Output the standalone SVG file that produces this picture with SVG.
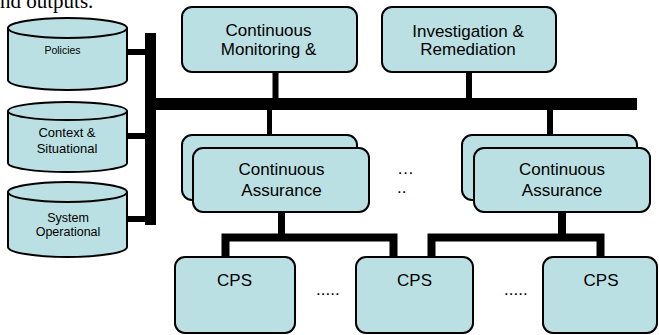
<svg xmlns="http://www.w3.org/2000/svg" width="659" height="335" viewBox="0 0 659 335">
<style>
.box{fill:#BBE0E3;stroke:#000;stroke-width:2}
.t{font-family:"Liberation Sans",Arial,sans-serif;font-size:17px;fill:#000;text-anchor:middle}
.ct{font-family:"Liberation Sans",Arial,sans-serif;fill:#000;text-anchor:middle}
.bus{fill:none;stroke:#000;stroke-linecap:butt;stroke-linejoin:miter}
.dots{font-family:"Liberation Sans",Arial,sans-serif;font-size:17px;fill:#000}
</style>
<rect width="659" height="335" fill="#fff"/>
<text x="0" y="8" font-family="'Liberation Serif','Times New Roman',serif" font-size="21" fill="#000">nd outputs.</text>

<g id="connectors">
<path class="bus" stroke-width="11" d="M150.5 33 V225"/>
<path class="bus" stroke-width="6" d="M127 52 H146"/>
<path class="bus" stroke-width="6" d="M127 136 H146"/>
<path class="bus" stroke-width="6" d="M127 219 H146"/>
<path class="bus" stroke-width="12" d="M150 104 H637"/>
<path class="bus" stroke-width="6" d="M275.5 72 V99"/>
<path class="bus" stroke-width="6" d="M469 72 V99"/>
<path class="bus" stroke-width="5" d="M269.5 109 V135"/>
<path class="bus" stroke-width="6" d="M550 109 V135"/>
<path class="bus" stroke-width="7" d="M281.5 212 V238"/>
<path class="bus" stroke-width="8" d="M225.5 257 V237.5 H393.5 V257"/>
<path class="bus" stroke-width="8" d="M562 212 V238"/>
<path class="bus" stroke-width="8" d="M431.5 257 V237.5 H600.5 V257"/>
</g>

<g id="policies">
<path class="box" d="M8 28 V80 A59.5 10 0 0 0 127 80 V28"/>
<ellipse class="box" cx="67.5" cy="28" rx="59.5" ry="10"/>
<text class="ct" x="62.5" y="54" font-size="10.5">Policies</text>
</g>
<g id="context">
<path class="box" d="M8 111 V163 A59.5 9 0 0 0 127 163 V111"/>
<ellipse class="box" cx="67.5" cy="111" rx="59.5" ry="9"/>
<text class="ct" x="67" y="137" font-size="13">Context &amp;</text>
<text class="ct" x="67" y="153" font-size="13">Situational</text>
</g>
<g id="system">
<path class="box" d="M8 192 V247 A59.5 10 0 0 0 127 247 V192"/>
<ellipse class="box" cx="67.5" cy="192" rx="59.5" ry="10"/>
<text class="ct" x="68" y="222" font-size="12.5">System</text>
<text class="ct" x="68" y="235.5" font-size="12.5">Operational</text>
</g>

<g id="monitoring">
<rect class="box" x="182" y="7" width="175" height="65" rx="10"/>
<text class="t" x="268.5" y="36">Continuous</text>
<text class="t" x="268.5" y="55">Monitoring &amp;</text>
</g>
<g id="investigation">
<rect class="box" x="382" y="7" width="174" height="65" rx="10"/>
<text class="t" x="468" y="36.5">Investigation &amp;</text>
<text class="t" x="468" y="55">Remediation</text>
</g>

<g id="assurance-left">
<rect class="box" x="182" y="135" width="175" height="65" rx="10"/>
<rect class="box" x="193" y="148" width="176" height="64" rx="10"/>
<text class="t" x="281.5" y="175">Continuous</text>
<text class="t" x="281.5" y="196">Assurance</text>
</g>
<g id="assurance-right">
<rect class="box" x="462" y="135" width="175" height="65" rx="10"/>
<rect class="box" x="474" y="148" width="176" height="64" rx="10"/>
<text class="t" x="562" y="175">Continuous</text>
<text class="t" x="562" y="196">Assurance</text>
</g>
<g id="ellipsis-mid">
<text class="dots" x="397" y="174">…</text>
<text class="dots" x="397" y="193">..</text>
</g>

<g id="cps1">
<rect class="box" x="175" y="257" width="120" height="76" rx="10"/>
<text class="t" x="234.5" y="286">CPS</text>
</g>
<g id="cps2">
<rect class="box" x="356" y="257" width="117" height="76" rx="10"/>
<text class="t" x="414.5" y="286">CPS</text>
</g>
<g id="cps3">
<rect class="box" x="543" y="257" width="114" height="76" rx="10"/>
<text class="t" x="601" y="286">CPS</text>
</g>
<g id="ellipsis-bottom">
<text class="dots" x="316" y="295">.....</text>
<text class="dots" x="504" y="295">.....</text>
</g>
</svg>
